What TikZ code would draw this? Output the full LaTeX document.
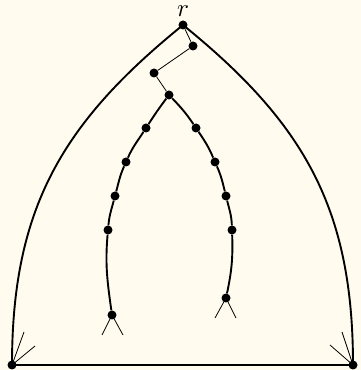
\documentclass[tikz,border=0pt]{standalone}
\usepackage{tikz}
\usetikzlibrary{positioning}
\definecolor{paper}{HTML}{FFFCEF}

\begin{document}
\begin{tikzpicture}[x=1pt,y=1pt]
  \tikzset{dot/.style={circle, fill=black, inner sep=0pt, minimum size=9pt}, outer/.style={line width=1.9pt}, branch/.style={line width=1.9pt}, thin edge/.style={line width=0.8pt}}
  \fill[paper] (0,0) rectangle (361,370);
  \useasboundingbox (0,0) rectangle (361,370);
  % root and the short zigzag below it
  \node[dot] (r) at (183,345) {};
  \node[scale=2.5, inner sep=0pt] (rlab) at (183,358.5) {$r$};
  \node[dot] (n1) at (193,324) {};
  \node[dot] (n2) at (154,297) {};
  \node[dot] (n3) at (169,275) {};
  % left branch
  \node[dot] (l1) at (146,242) {};
  \node[dot] (l2) at (126,208) {};
  \node[dot] (l3) at (115,174) {};
  \node[dot] (l4) at (108,140) {};
  \node[dot] (l5) at (112,55) {};
  % right branch
  \node[dot] (r1) at (196,242) {};
  \node[dot] (r2) at (215,208) {};
  \node[dot] (r3) at (226,174) {};
  \node[dot] (r4) at (232,140) {};
  \node[dot] (r5) at (226,72) {};
  % bottom corners
  \node[dot] (A) at (12,5) {};
  \node[dot] (B) at (353,5) {};
  \coordinate (la) at (102,35);
  \coordinate (lb) at (123,35);
  \coordinate (ra) at (215,52);
  \coordinate (rb) at (236,52);
  \coordinate (aa) at (24,38);
  \coordinate (ab) at (35,24);
  \coordinate (ba) at (342,38);
  \coordinate (bb) at (330,25);

  \draw[outer] (r.center) to[out=-141,in=90,looseness=1.05] (A.center) -- (B.center) to[out=90,in=-39,looseness=1.05] (r.center);
  \draw[thin edge] (r) -- (n1) -- (n2) -- (n3);
  \draw[branch] (n3) to[out=-127,in=57] (l1) to[out=-123,in=66] (l2) to[out=-114,in=75] (l3) to[out=-105,in=85] (l4) to[out=-95,in=98] (l5);
  \draw[branch] (n3) to[out=-46,in=124] (r1) to[out=-56,in=113] (r2) to[out=-66,in=104] (r3) to[out=-76,in=92] (r4) to[out=-88,in=78] (r5);
  \draw[thin edge] (la) -- (l5.center) -- (lb);
  \draw[thin edge] (ra) -- (r5.center) -- (rb);
  \draw[thin edge] (aa) -- (A.center) -- (ab);
  \draw[thin edge] (ba) -- (B.center) -- (bb);
\end{tikzpicture}
\end{document}
